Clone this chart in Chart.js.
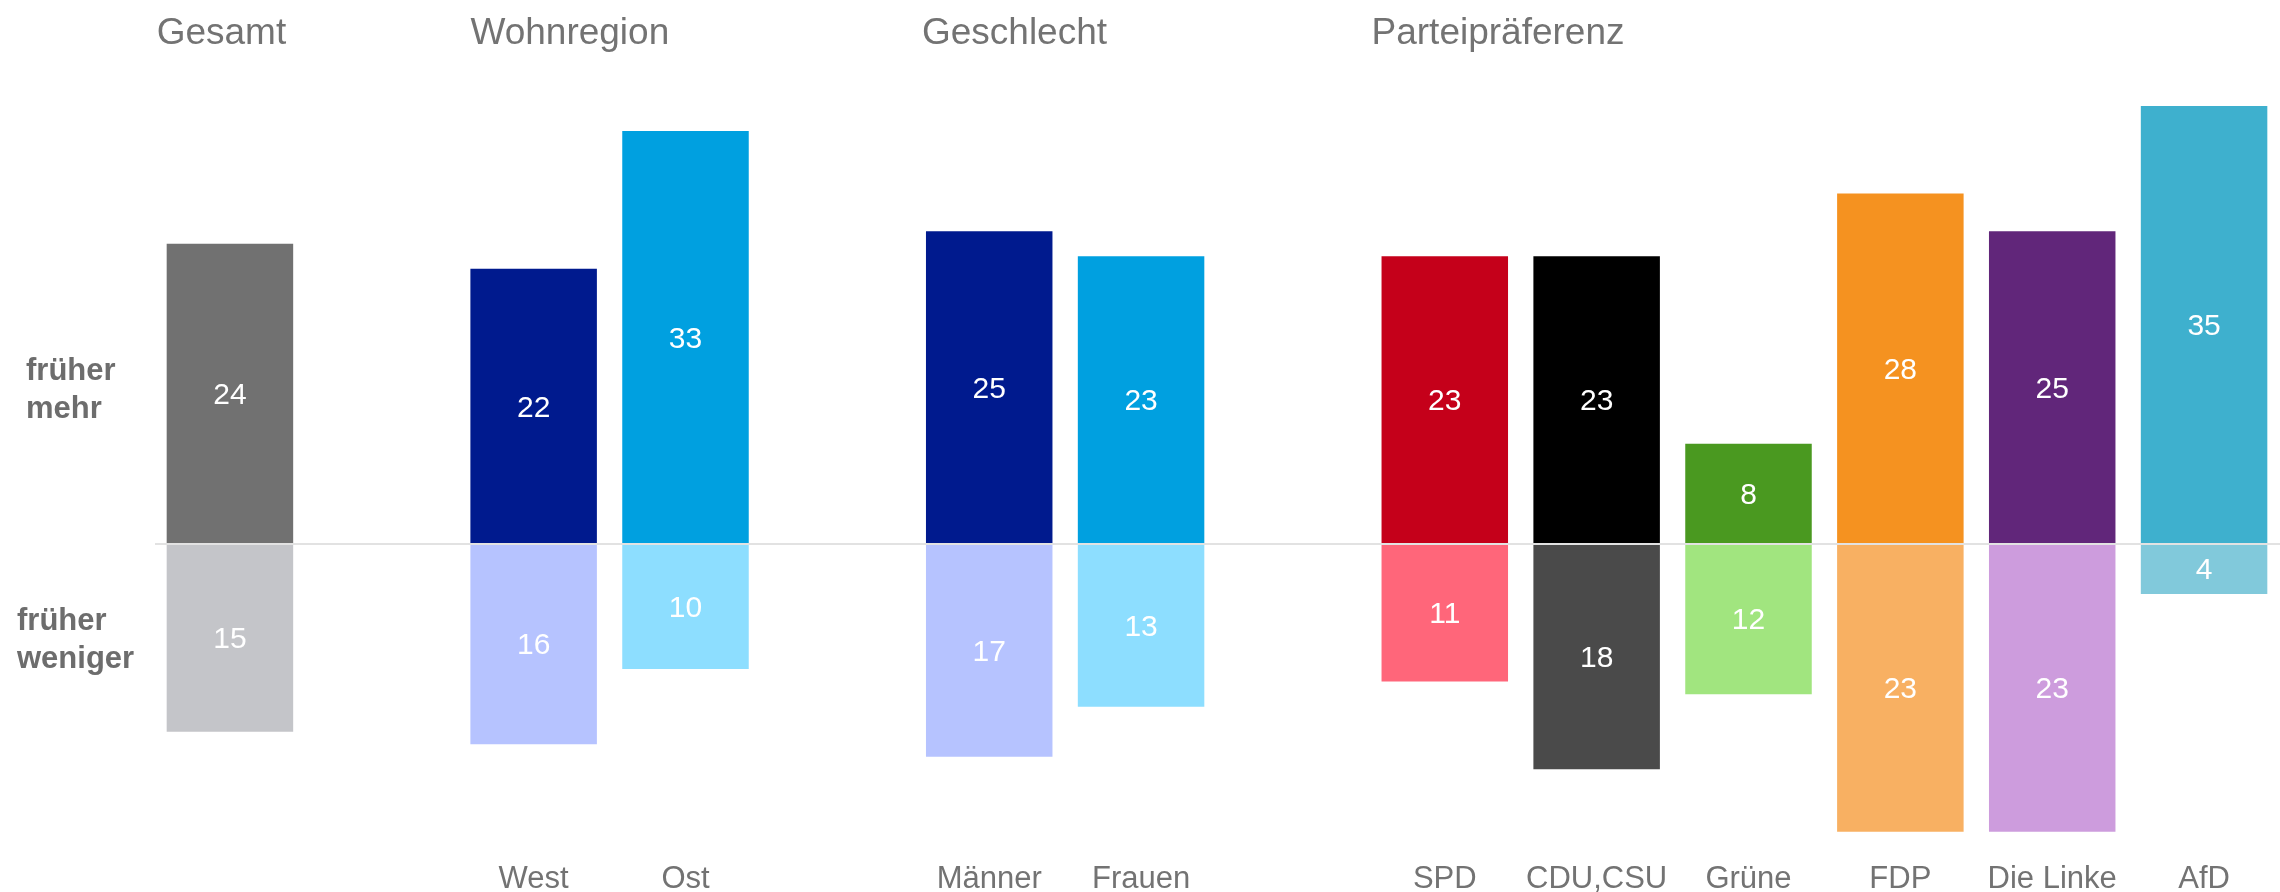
<!DOCTYPE html>
<html>
<head>
<meta charset="utf-8">
<script src="https://cdn.jsdelivr.net/npm/chart.js@4"></script>
<style>
  html, body { margin: 0; padding: 0; background: #fff; }
  #wrap { width: 2280px; height: 892px; position: relative; }
</style>
</head>
<body>
<div id="wrap"><canvas id="chart"></canvas></div>
<script>
// slots on the x axis ('' = empty spacer between groups)
const categories = ['Gesamt', '', 'West', 'Ost', '', 'Männer', 'Frauen', '', 'SPD', 'CDU,CSU', 'Grüne', 'FDP', 'Die Linke', 'AfD'];
const tickLabels = ['', '', 'West', 'Ost', '', 'Männer', 'Frauen', '', 'SPD', 'CDU,CSU', 'Grüne', 'FDP', 'Die Linke', 'AfD'];

const frueherMehr    = [24, null, 22, 33, null, 25, 23, null, 23, 23, 8, 28, 25, 35];
const frueherWeniger = [15, null, 16, 10, null, 17, 13, null, 11, 18, 12, 23, 23, 4];

const colorsMehr    = ['#717171', null, '#001a8e', '#00a0e0', null, '#001a8e', '#00a0e0', null, '#c5001a', '#000000', '#4a9920', '#f59220', '#61267a', '#3eb0ce'];
const colorsWeniger = ['#c4c5c9', null, '#b6c3ff', '#8ddeff', null, '#b6c3ff', '#8ddeff', null, '#ff667a', '#4a4a4a', '#a1e57f', '#f8b062', '#cd9cdd', '#81c9db'];

// group headings: text + first slot of the group
const groupTitles = ['Gesamt', 'Wohnregion', 'Geschlecht', 'Parteipräferenz'];
const groupStart  = [0, 2, 5, 8];
const groupShift  = [-10, 0, -4, -10];

const FONT = "'Liberation Sans', Arial, sans-serif";

const overlay = {
    id: 'overlay',
    afterDatasetsDraw(chart) {
        const ctx = chart.ctx;
        const x = chart.scales.x;
        const y = chart.scales.y;
        const y0 = y.getPixelForValue(0);

        // zero line
        ctx.save();
        ctx.strokeStyle = '#e2e2e2';
        ctx.lineWidth = 2;
        ctx.beginPath();
        ctx.moveTo(155, y0);
        ctx.lineTo(chart.width, y0);
        ctx.stroke();

        // values inside the bars
        ctx.fillStyle = '#ffffff';
        ctx.font = '30px ' + FONT;
        ctx.textAlign = 'center';
        ctx.textBaseline = 'middle';
        chart.data.datasets.forEach((ds, di) => {
            chart.getDatasetMeta(di).data.forEach((bar, i) => {
                const v = ds.data[i];
                if (v === null || v === undefined) return;
                const p = bar.getProps(['x', 'y', 'base'], true);
                ctx.fillText(String(Math.abs(v)), p.x, (p.y + p.base) / 2 + 2);
            });
        });

        // group titles
        const step = x.getPixelForValue(1) - x.getPixelForValue(0);
        const barW = step * 0.833;
        ctx.fillStyle = '#737373';
        ctx.font = '37px ' + FONT;
        ctx.textAlign = 'left';
        ctx.textBaseline = 'alphabetic';
        groupTitles.forEach((t, i) => {
            const left = x.getPixelForValue(groupStart[i]) - barW / 2 + groupShift[i];
            ctx.fillText(t, left, 44);
        });

        // row labels on the left
        ctx.fillStyle = '#6d6d6d';
        ctx.font = 'bold 31px ' + FONT;
        ctx.fillText('früher', 26, 380);
        ctx.fillText('mehr', 26, 418);
        ctx.fillText('früher', 17, 630);
        ctx.fillText('weniger', 17, 668);
        ctx.restore();
    }
};

new Chart(document.getElementById('chart'), {
    type: 'bar',
    data: {
        labels: categories,
        datasets: [
            {
                label: 'früher mehr',
                data: frueherMehr,
                backgroundColor: colorsMehr,
                barPercentage: 0.833,
                categoryPercentage: 1
            },
            {
                label: 'früher weniger',
                data: frueherWeniger.map(v => v === null ? null : -v),
                backgroundColor: colorsWeniger,
                barPercentage: 0.833,
                categoryPercentage: 1
            }
        ]
    },
    options: {
        responsive: true,
        maintainAspectRatio: false,
        animation: false,
        layout: { padding: { left: 154, right: 0, top: 106, bottom: -10 } },
        plugins: {
            legend: { display: false },
            tooltip: { enabled: false }
        },
        scales: {
            x: {
                stacked: true,
                grid: { display: false, drawTicks: false },
                border: { display: false },
                ticks: {
                    autoSkip: false,
                    maxRotation: 0,
                    padding: 4,
                    color: '#737373',
                    font: { family: FONT, size: 31 },
                    callback: (v, i) => tickLabels[i]
                }
            },
            y: {
                stacked: true,
                display: false,
                min: -25,
                max: 35
            }
        }
    },
    plugins: [overlay]
});
</script>
</body>
</html>
